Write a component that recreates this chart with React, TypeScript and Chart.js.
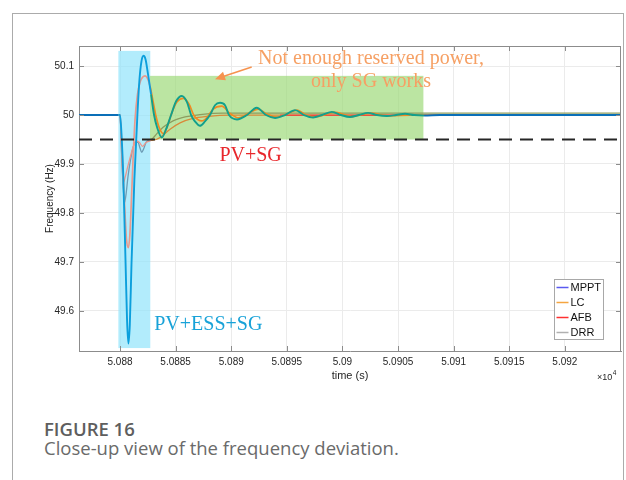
import React, { useEffect, useRef } from "react";
import { Chart, registerables } from "chart.js";

Chart.register(...registerables);

// Axis ticks (time in seconds, shown in units of 10^4 s)
const xTickValues = [50880, 50885, 50890, 50895, 50900, 50905, 50910, 50915, 50920];
const xTickLabels = ["5.088", "5.0885", "5.089", "5.0895", "5.09", "5.0905", "5.091", "5.0915", "5.092"];
const yTickValues = [49.6, 49.7, 49.8, 49.9, 50, 50.1];
const yTickLabels = ["49.6", "49.7", "49.8", "49.9", "50", "50.1"];

const timeRange = [50876.31, 50925.05];
const freqRange = [49.518, 50.141];

// Series names and legend colours
const seriesNames = ["MPPT", "LC", "AFB", "DRR"];
const legendColors = ["#5a5af0", "#f5a540", "#ff3030", "#b0b0b0"];

// MPPT
const mpptTime = [50876.31, 50879.85, 50880.0, 50880.13, 50880.3, 50880.49, 50880.63, 50880.75, 50880.88, 50881.03, 50881.29, 50881.56, 50881.75, 50881.93, 50882.11, 50882.29, 50882.52, 50882.79, 50883.06, 50883.33, 50883.75, 50884.14, 50884.59, 50885.04, 50885.55, 50886.03, 50886.39, 50886.74, 50887.19, 50887.64, 50888.09, 50888.54, 50888.99, 50889.44, 50889.8, 50890.52, 50891.42, 50892.29, 50893.13, 50893.94, 50894.84, 50895.74, 50896.55, 50897.36, 50898.17, 50899.06, 50899.87, 50900.68, 50901.49, 50902.3, 50903.11, 50904.01, 50904.82, 50905.63, 50906.44, 50907.34, 50908.78, 50925.05];
const mpptFreq = [50.0, 50.0, 50.0, 49.961, 49.869, 49.705, 49.582, 49.533, 49.572, 49.695, 49.869, 50.0, 50.073, 50.11, 50.121, 50.114, 50.083, 50.042, 50.0, 49.975, 49.954, 49.971, 50.0, 50.028, 50.039, 50.026, 50.0, 49.987, 49.978, 49.987, 50.0, 50.02, 50.025, 50.02, 50.0, 49.991, 50.0, 50.015, 50.0, 49.994, 50.0, 50.01, 50.0, 49.995, 50.0, 50.0065, 50.0, 49.996, 50.0, 50.0045, 50.0, 49.998, 50.0, 50.0025, 50.0, 49.999, 50.0, 50.0];

// LC
const lcTime = [50876.31, 50879.85, 50880.0, 50880.13, 50880.3, 50880.45, 50880.58, 50880.75, 50880.88, 50880.99, 50881.17, 50881.35, 50881.57, 50881.8, 50882.02, 50882.25, 50882.47, 50882.7, 50882.97, 50883.24, 50883.51, 50883.89, 50884.23, 50884.68, 50885.13, 50885.69, 50886.21, 50886.65, 50887.35, 50887.82, 50888.36, 50889.15, 50889.89, 50890.66, 50891.51, 50892.41, 50893.22, 50894.12, 50895.02, 50895.92, 50896.73, 50897.54, 50898.35, 50899.24, 50900.86, 50902.48, 50904.28, 50906.08, 50925.05];
const lcFreq = [50.0, 50.0, 50.0, 49.95, 49.869, 49.797, 49.746, 49.729, 49.754, 49.807, 49.909, 49.991, 50.042, 50.067, 50.077, 50.08, 50.075, 50.059, 50.028, 49.997, 49.975, 49.962, 49.975, 50.006, 50.027, 50.034, 50.022, 49.999, 49.988, 49.995, 50.012, 50.018, 50.003, 49.994, 50.003, 50.012, 50.002, 49.996, 50.002, 50.01, 50.0, 49.996, 50.0, 50.006, 49.997, 50.004, 49.998, 50.0, 50.0];

// AFB
const afbTime = [50876.31, 50879.85, 50880.0, 50880.13, 50880.3, 50880.45, 50880.63, 50880.94, 50881.2, 50881.5, 50881.75, 50882.02, 50882.34, 50882.79, 50883.24, 50883.6, 50884.5, 50885.4, 50886.56, 50887.82, 50889.89, 50894.39, 50925.05];
const afbFreq = [50.0, 50.0, 50.0, 49.93, 49.862, 49.872, 49.889, 49.916, 49.936, 49.947, 49.944, 49.936, 49.944, 49.948, 49.95, 49.954, 49.971, 49.984, 49.993, 49.997, 50.0, 50.0, 50.0];

// DRR
const drrTime = [50876.31, 50879.85, 50880.0, 50880.18, 50880.4, 50880.54, 50880.72, 50881.08, 50881.35, 50881.62, 50881.8, 50881.95, 50882.11, 50882.34, 50882.61, 50882.88, 50883.24, 50883.87, 50884.77, 50885.85, 50887.19, 50889.26, 50925.05];
const drrFreq = [50.0, 50.0, 50.0, 49.899, 49.821, 49.838, 49.875, 49.924, 49.944, 49.944, 49.932, 49.924, 49.93, 49.944, 49.949, 49.951, 49.96, 49.975, 49.988, 49.996, 50.001, 50.004, 50.004];

// Threshold
const thresholdFreq = 49.95;

// Shaded windows: [start time, end time, low freq, high freq]
const essWindow = [50879.85, 50882.72, 49.524, 50.131];
const sgWindow = [50882.7, 50907.28, 49.95, 50.08];

const essFill = "rgba(145,228,251,0.7)";
const sgFill = "rgba(158,218,122,0.7)";

// Line colours: outside windows, inside ESS window, inside SG window
const lineStyles = [
  { base: "#0a6fb8", ess: "#0c9fdc", sg: "#12a08c", width: 1.9 },
  { base: "#f0a030", ess: "#e99a8e", sg: "#f28a22", width: 1.7 },
  { base: "#ff2020", ess: "#eb978d", sg: "#d98a3a", width: 1.3 },
  { base: "#9a9a9a", ess: "#6d9cb5", sg: "#8e9d5f", width: 1.3 },
];

const axisGray = "#8c8c8c";

function toPoints(t: number[], f: number[]) {
  return t.map((x, i) => ({ x, y: f[i] }));
}

function segColor(style: { base: string; ess: string; sg: string }) {
  return (ctx: any) => {
    const xm = (ctx.p0.parsed.x + ctx.p1.parsed.x) / 2;
    if (xm >= essWindow[0] && xm <= essWindow[1]) return style.ess;
    if (xm >= sgWindow[0] && xm <= sgWindow[1]) return style.sg;
    return style.base;
  };
}

const decorPlugin = {
  id: "decor",
  beforeDatasetsDraw(chart: any) {
    const { ctx, scales } = chart;
    const x = scales.x;
    const y = scales.y;
    ctx.save();
    for (const [w, color] of [
      [essWindow, essFill],
      [sgWindow, sgFill],
    ] as [number[], string][]) {
      const l = x.getPixelForValue(w[0]);
      const r = x.getPixelForValue(w[1]);
      const t = y.getPixelForValue(w[3]);
      const b = y.getPixelForValue(w[2]);
      ctx.fillStyle = color;
      ctx.fillRect(l, t, r - l, b - t);
    }
    ctx.restore();
  },
  afterDraw(chart: any) {
    const { ctx, chartArea: a, scales } = chart;
    const x = scales.x;
    const y = scales.y;
    ctx.save();

    // box and inward ticks
    ctx.strokeStyle = axisGray;
    ctx.lineWidth = 1;
    ctx.beginPath();
    ctx.moveTo(a.left, a.top + 0.5);
    ctx.lineTo(a.right, a.top + 0.5);
    ctx.moveTo(a.right - 0.5, a.top);
    ctx.lineTo(a.right - 0.5, a.bottom);
    for (const v of xTickValues) {
      const px = Math.round(x.getPixelForValue(v)) + 0.5;
      ctx.moveTo(px, a.top);
      ctx.lineTo(px, a.top + 5);
      ctx.moveTo(px, a.bottom);
      ctx.lineTo(px, a.bottom - 5);
    }
    for (const v of yTickValues) {
      const py = Math.round(y.getPixelForValue(v)) + 0.5;
      ctx.moveTo(a.left, py);
      ctx.lineTo(a.left + 5, py);
      ctx.moveTo(a.right, py);
      ctx.lineTo(a.right - 5, py);
    }
    ctx.stroke();

    // annotations
    ctx.font = '20px "Liberation Serif"';
    ctx.textAlign = "center";
    ctx.textBaseline = "alphabetic";
    ctx.fillStyle = "#f6a064";
    ctx.fillText("Not enough reserved power,", x.getPixelForValue(50902.57), y.getPixelForValue(50.1037));
    ctx.fillText("only SG works", x.getPixelForValue(50902.57), y.getPixelForValue(50.0573));
    ctx.fillStyle = "#e8262b";
    ctx.fillText("PV+SG", x.getPixelForValue(50891.74), y.getPixelForValue(49.9053));
    ctx.fillStyle = "#18a2d8";
    ctx.fillText("PV+ESS+SG", x.getPixelForValue(50887.94), y.getPixelForValue(49.5603));

    // arrow
    const tx = x.getPixelForValue(50891.84);
    const ty = y.getPixelForValue(50.0982);
    const hx = x.getPixelForValue(50888.54);
    const hy = y.getPixelForValue(50.073);
    const ang = Math.atan2(hy - ty, hx - tx);
    ctx.strokeStyle = "#f6934f";
    ctx.fillStyle = "#f6934f";
    ctx.lineWidth = 1.6;
    ctx.beginPath();
    ctx.moveTo(tx, ty);
    ctx.lineTo(hx - 7 * Math.cos(ang), hy - 7 * Math.sin(ang));
    ctx.stroke();
    ctx.beginPath();
    ctx.moveTo(hx, hy);
    ctx.lineTo(hx - 10 * Math.cos(ang) + 4.5 * Math.sin(ang), hy - 10 * Math.sin(ang) - 4.5 * Math.cos(ang));
    ctx.lineTo(hx - 10 * Math.cos(ang) - 4.5 * Math.sin(ang), hy - 10 * Math.sin(ang) + 4.5 * Math.cos(ang));
    ctx.closePath();
    ctx.fill();

    // legend
    ctx.font = '11px "Liberation Sans"';
    ctx.textAlign = "left";
    ctx.textBaseline = "middle";
    const textW = Math.max(...seriesNames.map((n) => ctx.measureText(n).width));
    const boxW = Math.round(16 + textW + 2);
    const boxH = 60;
    const bx = Math.round(a.right - 18 - boxW) + 0.5;
    const by = Math.round(a.bottom - 12 - boxH) + 0.5;
    ctx.fillStyle = "#ffffff";
    ctx.fillRect(bx, by, boxW, boxH);
    ctx.strokeStyle = "#a8a8a8";
    ctx.lineWidth = 1;
    ctx.strokeRect(bx, by, boxW, boxH);
    seriesNames.forEach((name, i) => {
      const ly = by + 8 + i * 15;
      ctx.strokeStyle = legendColors[i];
      ctx.lineWidth = 1.5;
      ctx.beginPath();
      ctx.moveTo(bx + 2, ly);
      ctx.lineTo(bx + 14, ly);
      ctx.stroke();
      ctx.fillStyle = "#111111";
      ctx.fillText(name, bx + 16, ly + 0.5);
    });

    // exponent marker
    ctx.fillStyle = "#262626";
    ctx.textBaseline = "alphabetic";
    ctx.font = '9px "Liberation Sans"';
    ctx.fillText("\u00d710", 597, 380);
    const w10 = ctx.measureText("\u00d710").width;
    ctx.font = '6.5px "Liberation Sans"';
    ctx.fillText("4", 597 + w10 + 0.5, 375);

    ctx.restore();
  },
};

export default function App() {
  const canvasRef = useRef<HTMLCanvasElement | null>(null);

  useEffect(() => {
    const canvas = canvasRef.current;
    if (!canvas) return;
    const series = [
      toPoints(mpptTime, mpptFreq),
      toPoints(lcTime, lcFreq),
      toPoints(afbTime, afbFreq),
      toPoints(drrTime, drrFreq),
    ];
    const chart = new Chart(canvas, {
      type: "line",
      data: {
        datasets: [
          {
            label: "threshold",
            data: [
              { x: timeRange[0], y: thresholdFreq },
              { x: timeRange[1], y: thresholdFreq },
            ],
            borderColor: "#262626",
            borderWidth: 2.2,
            borderDash: [13, 8],
            pointRadius: 0,
          },
          ...series.map((data, i) => ({
            label: seriesNames[i],
            data,
            borderColor: lineStyles[i].base,
            borderWidth: lineStyles[i].width,
            pointRadius: 0,
            cubicInterpolationMode: "monotone" as const,
            segment: { borderColor: segColor(lineStyles[i]) },
          })),
        ],
      },
      options: {
        responsive: false,
        animation: false,
        devicePixelRatio: 1,
        layout: { padding: { left: 0, right: 5, top: 46, bottom: 0 } },
        plugins: { legend: { display: false }, tooltip: { enabled: false } },
        scales: {
          x: {
            type: "linear",
            min: timeRange[0],
            max: timeRange[1],
            afterBuildTicks: (s: any) => {
              s.ticks = xTickValues.map((value) => ({ value }));
            },
            afterFit: (s: any) => {
              s.height = 49;
            },
            ticks: {
              callback: (_v: any, i: number) => xTickLabels[i],
              font: { family: '"Liberation Sans"', size: 10 },
              color: "#262626",
              padding: 5,
              maxRotation: 0,
              autoSkip: false,
            },
            grid: { color: "#ebebeb", drawTicks: false },
            border: { display: true, color: axisGray },
            title: {
              display: true,
              text: "time (s)",
              font: { family: '"Liberation Sans"', size: 11 },
              color: "#262626",
              padding: { top: 0, bottom: 17 },
            },
          },
          y: {
            type: "linear",
            min: freqRange[0],
            max: freqRange[1],
            afterBuildTicks: (s: any) => {
              s.ticks = yTickValues.map((value) => ({ value }));
            },
            afterFit: (s: any) => {
              s.width = 79;
            },
            ticks: {
              callback: (_v: any, i: number) => yTickLabels[i],
              font: { family: '"Liberation Sans"', size: 10 },
              color: "#262626",
              padding: 5,
            },
            grid: { color: "#ebebeb", drawTicks: false },
            border: { display: true, color: axisGray },
            title: {
              display: true,
              text: "Frequency (Hz)",
              font: { family: '"Liberation Sans"', size: 10 },
              color: "#262626",
              padding: { top: 44, bottom: 0 },
            },
          },
        },
      },
      plugins: [decorPlugin],
    });
    return () => chart.destroy();
  }, []);

  return (
    <div>
      <div
        style={{
          position: "absolute",
          left: 12,
          top: 13,
          width: 612,
          height: 480,
          border: "1px solid #ababab",
          boxSizing: "border-box",
        }}
      />
      <canvas
        ref={canvasRef}
        width={626}
        height={400}
        style={{ position: "absolute", left: 0, top: 0, width: 626, height: 400 }}
      />
      <div
        style={{
          position: "absolute",
          left: 44,
          top: 420,
          font: '600 18.5px "Open Sans"',
          lineHeight: "18.5px",
          color: "#5e5e5e",
          whiteSpace: "nowrap",
        }}
      >
        FIGURE 16
      </div>
      <div
        style={{
          position: "absolute",
          left: 44,
          top: 439,
          font: '400 18.5px "Open Sans"',
          lineHeight: "18.5px",
          color: "#6a6a6a",
          whiteSpace: "nowrap",
        }}
      >
        Close-up view of the frequency deviation.
      </div>
    </div>
  );
}
